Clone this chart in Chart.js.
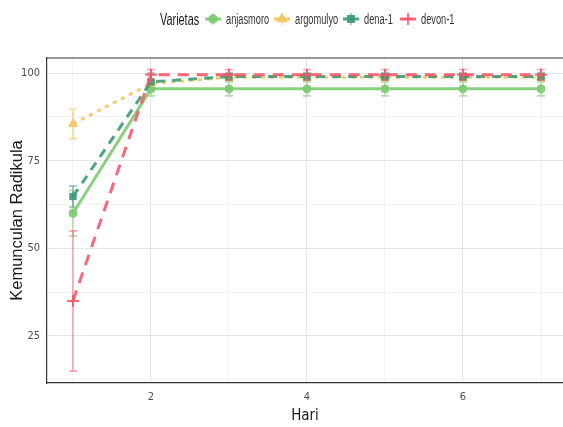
<!DOCTYPE html>
<html>
<head>
<meta charset="utf-8">
<script src="https://cdn.jsdelivr.net/npm/chart.js@4/dist/chart.umd.min.js"></script>
<style>
  html, body { margin: 0; padding: 0; background: #fff; }
  #wrap { width: 563px; height: 427px; position: relative; }
</style>
</head>
<body>
<div id="wrap"><canvas id="radikulaChart" width="563" height="427"></canvas></div>
<script>
// data
var days = [1, 2, 3, 4, 5, 6, 7];
var varieties = ["anjasmoro", "argomulyo", "dena-1", "devon-1"];
var anjasmoro = [60, 95.5, 95.5, 95.5, 95.5, 95.5, 95.5];
var anjasmoroErr = [6.5, 2, 2, 2, 2, 2, 2];
var argomulyo = [85.5, 97, 98.8, 98.8, 98.8, 98.8, 98.8];
var argomulyoErr = [4.2, 1, 1, 1, 1, 1, 1];
var dena1 = [64.8, 97.5, 99, 99, 99, 99, 99];
var dena1Err = [3, 2.5, 1, 1, 1, 1, 1];
var devon1 = [35, 99.5, 99.5, 99.5, 99.5, 99.5, 99.5];
var devon1Err = [20, 1.5, 1.5, 1.5, 1.5, 1.5, 1.5];
var xTickLabels = [2, 4, 6];
var yTickLabels = [25, 50, 75, 100];

var narrow = "'Liberation Sans Narrow', 'DejaVu Sans Condensed', 'Liberation Sans', sans-serif";

var styles = [
  { color: "rgba(125,203,114,0.9)", err: "rgba(125,203,114,0.6)", dash: [], point: "circle", r: 4 },
  { color: "rgba(243,198,95,0.9)", err: "rgba(243,198,95,0.65)", dash: [4, 5], point: "triangle", r: 5 },
  { color: "rgba(62,154,115,0.9)", err: "rgba(62,154,115,0.6)", dash: [9, 7], point: "rect", r: 4.5 },
  { color: "rgba(248,87,107,0.9)", err: "rgba(248,87,107,0.55)", dash: [11, 8], point: "cross", r: 6 }
];
var values = [anjasmoro, argomulyo, dena1, devon1];
var errors = [anjasmoroErr, argomulyoErr, dena1Err, devon1Err];

var datasets = varieties.map(function (name, i) {
  var s = styles[i];
  return {
    label: name,
    data: days.map(function (d, j) { return { x: d, y: values[i][j] }; }),
    errs: errors[i],
    borderColor: s.color,
    backgroundColor: s.color,
    borderWidth: 3,
    borderDash: s.dash,
    pointStyle: s.point,
    pointRadius: s.r,
    pointHoverRadius: s.r,
    pointBackgroundColor: s.color,
    pointBorderColor: s.color,
    pointBorderWidth: s.point === "cross" ? 2 : 1,
    tension: 0,
    order: 4 - i
  };
});

// vertical error bars, drawn under the lines
var errorBars = {
  id: "errorBars",
  beforeDatasetsDraw: function (chart) {
    var ctx = chart.ctx, xs = chart.scales.x, ys = chart.scales.y;
    ctx.save();
    chart.data.datasets.forEach(function (ds, i) {
      ctx.strokeStyle = styles[i].err;
      ctx.lineWidth = 1.6;
      ds.data.forEach(function (p, j) {
        var px = xs.getPixelForValue(p.x);
        var top = ys.getPixelForValue(p.y + ds.errs[j]);
        var bot = ys.getPixelForValue(p.y - ds.errs[j]);
        ctx.beginPath();
        ctx.moveTo(px, top); ctx.lineTo(px, bot);
        ctx.moveTo(px - 4, top); ctx.lineTo(px + 4, top);
        ctx.moveTo(px - 4, bot); ctx.lineTo(px + 4, bot);
        ctx.stroke();
      });
    });
    ctx.restore();
  }
};

// narrow text by squeezing Liberation Sans horizontally
function narrowText(ctx, text, x, y, size, color) {
  ctx.save();
  ctx.font = size + "px 'Liberation Sans', Arial, sans-serif";
  ctx.fillStyle = color;
  ctx.textBaseline = "middle";
  ctx.translate(x, y);
  ctx.scale(0.66, 1);
  ctx.fillText(text, 0, 0);
  ctx.restore();
}

// panel top border + ggplot-like legend row
var decorations = {
  id: "decorations",
  afterDraw: function (chart) {
    var ctx = chart.ctx, a = chart.chartArea;
    ctx.save();
    ctx.strokeStyle = "#333";
    ctx.lineWidth = 1.2;
    ctx.beginPath();
    ctx.moveTo(a.left, a.top); ctx.lineTo(a.right, a.top);
    ctx.stroke();

    narrowText(ctx, "Varietas", 160, 20, 16.5, "#1a1a1a");

    var keyX = [213, 282, 351, 408];
    varieties.forEach(function (name, i) {
      var s = styles[i], cx = keyX[i], cy = 19;
      ctx.strokeStyle = s.color;
      ctx.lineWidth = 3;
      ctx.beginPath(); ctx.moveTo(cx - 8, cy); ctx.lineTo(cx + 8, cy); ctx.stroke();
      ctx.strokeStyle = s.err;
      ctx.lineWidth = 1.5;
      ctx.beginPath(); ctx.moveTo(cx, cy - 6); ctx.lineTo(cx, cy + 6); ctx.stroke();
      ctx.fillStyle = s.color;
      ctx.strokeStyle = s.color;
      Chart.helpers.drawPoint(ctx, {
        pointStyle: s.point, radius: s.r, borderWidth: s.point === "cross" ? 2 : 1
      }, cx, cy);
      narrowText(ctx, name, cx + 13, cy + 1, 14, "#333");
    });
    ctx.restore();
  }
};

var ctx = document.getElementById("radikulaChart").getContext("2d");
var radikulaChart = new Chart(ctx, {
  type: "line",
  data: { datasets: datasets },
  options: {
    responsive: false,
    animation: false,
    devicePixelRatio: 1,
    layout: { autoPadding: false, padding: { top: 58, left: 0, right: 0, bottom: 0 } },
    plugins: { legend: { display: false }, tooltip: { enabled: false } },
    scales: {
      x: {
        type: "linear",
        min: 0.667,
        max: 7.282,
        afterBuildTicks: function (scale) {
          scale.ticks = days.map(function (d) { return { value: d }; });
        },
        afterFit: function (scale) {
          scale.height = 44;
          scale.paddingLeft = 0;
          scale.paddingRight = 0;
        },
        grid: {
          color: function (c) { return xTickLabels.indexOf(c.tick.value) >= 0 ? "#e6e6e6" : "#f0f0f0"; },
          lineWidth: function (c) { return xTickLabels.indexOf(c.tick.value) >= 0 ? 1.1 : 0.8; },
          drawTicks: false
        },
        border: { display: true, color: "#333", width: 1.2 },
        ticks: {
          autoSkip: false,
          maxRotation: 0,
          padding: 8,
          color: "#4d4d4d",
          font: { family: narrow, size: 11 },
          callback: function (v) { return xTickLabels.indexOf(v) >= 0 ? String(v) : ""; }
        },
        title: {
          display: true,
          text: "Hari",
          color: "#1a1a1a",
          font: { family: narrow, size: 15 },
          padding: { top: 0, bottom: 2 }
        }
      },
      y: {
        type: "linear",
        min: 11.6,
        max: 104.3,
        afterBuildTicks: function (scale) {
          scale.ticks = [12.5, 25, 37.5, 50, 62.5, 75, 87.5, 100].map(function (v) { return { value: v }; });
        },
        afterFit: function (scale) {
          scale.width = 47;
          scale.paddingTop = 0;
          scale.paddingBottom = 0;
        },
        grid: {
          color: function (c) { return yTickLabels.indexOf(c.tick.value) >= 0 ? "#e6e6e6" : "#f0f0f0"; },
          lineWidth: function (c) { return yTickLabels.indexOf(c.tick.value) >= 0 ? 1.1 : 0.8; },
          drawTicks: false
        },
        border: { display: true, color: "#333", width: 1.2 },
        ticks: {
          autoSkip: false,
          padding: 7,
          color: "#4d4d4d",
          font: { family: narrow, size: 11 },
          callback: function (v) { return yTickLabels.indexOf(v) >= 0 ? String(v) : ""; }
        },
        title: {
          display: true,
          text: "Kemunculan Radikula",
          color: "#1a1a1a",
          font: { family: "'Liberation Sans', Arial, sans-serif", size: 16.5 },
          padding: { top: 8, bottom: 0 }
        }
      }
    }
  },
  plugins: [errorBars, decorations]
});
</script>
</body>
</html>
